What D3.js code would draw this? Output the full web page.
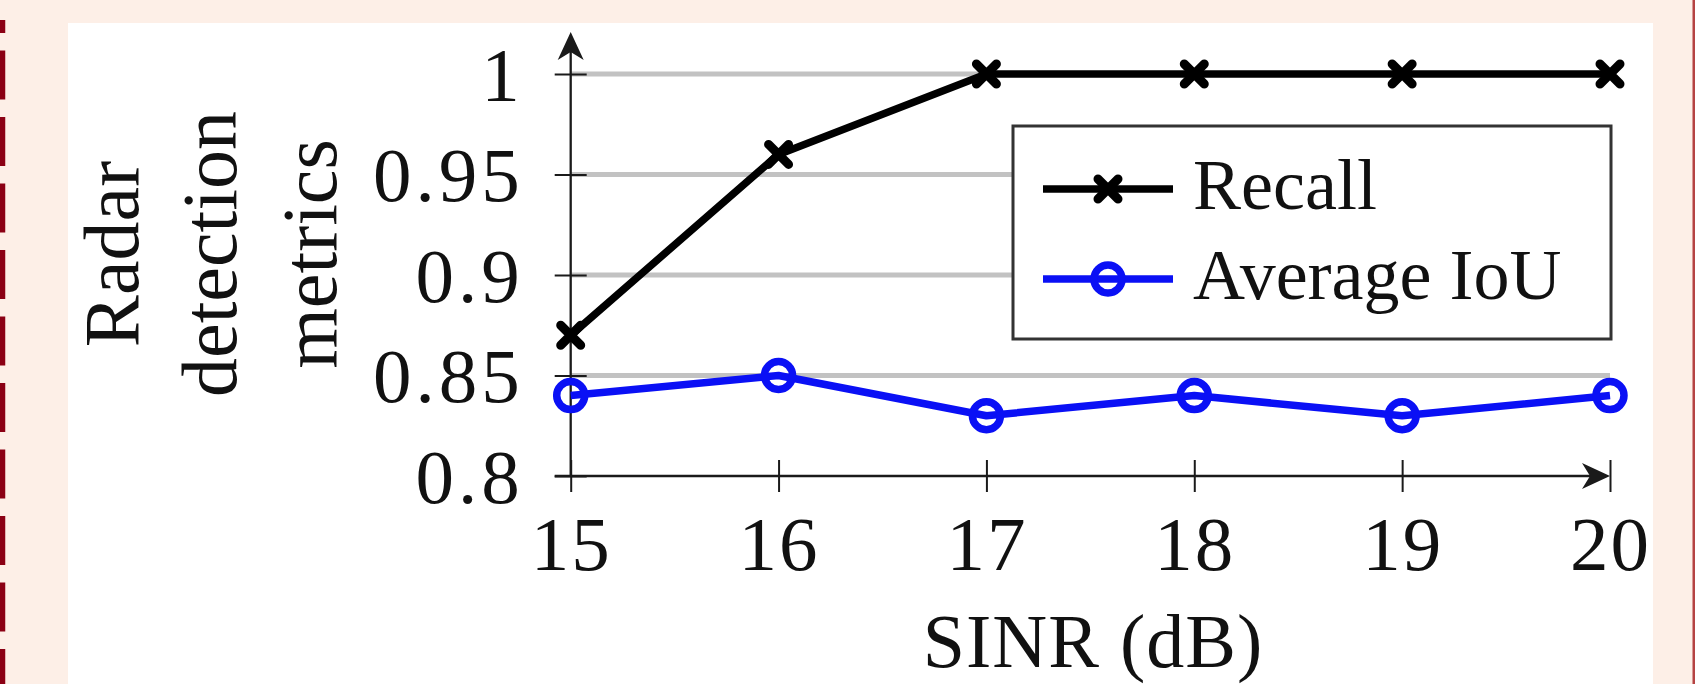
<!DOCTYPE html>
<html>
<head>
<meta charset="utf-8">
<script src="https://d3js.org/d3.v7.min.js"></script>
<style>
  body { margin: 0; background: #fdefe7; }
  svg { display: block; }
  text { font-family: "Liberation Serif", "Times New Roman", serif; fill: #111; }
</style>
</head>
<body>
<div id="chart"></div>
<script>
// data
const sinr = [15, 16, 17, 18, 19, 20];
const recall = [0.87, 0.96, 1, 1, 1, 1];
const avgIoU = [0.84, 0.85, 0.83, 0.84, 0.83, 0.84];
const xTickLabels = ["15", "16", "17", "18", "19", "20"];
const yTickValues = [0.8, 0.85, 0.9, 0.95, 1];
const yTickLabels = ["0.8", "0.85", "0.9", "0.95", "1"];
const gridValues = [0.85, 0.9, 0.95, 1];
const seriesNames = ["Recall", "Average IoU"];

const W = 1695, H = 684;
const blue = "#0a10f5";

const svg = d3.select("#chart").append("svg")
    .attr("width", W)
    .attr("height", H);

// page background, white panel, borders
svg.append("rect").attr("width", W).attr("height", H).attr("fill", "#fdefe7");
svg.append("rect").attr("x", 68).attr("y", 23).attr("width", 1585).attr("height", H).attr("fill", "#fff");
svg.append("line")
    .attr("x1", 2.6).attr("x2", 2.6).attr("y1", 20).attr("y2", H)
    .attr("stroke", "#8b0014").attr("stroke-width", 5.3)
    .attr("stroke-dasharray", "49 17.5").attr("stroke-dashoffset", 36);
svg.append("line")
    .attr("x1", 1693.8).attr("x2", 1693.8).attr("y1", 0).attr("y2", H)
    .attr("stroke", "#b54343").attr("stroke-width", 2.6);

const x = d3.scaleLinear().domain([15, 20]).range([570.7, 1610]);
const y = d3.scaleLinear().domain([0.8, 1]).range([476, 74]);

// grid lines
svg.append("g").selectAll("line")
  .data(gridValues)
  .join("line")
    .attr("x1", x(15)).attr("x2", x(20))
    .attr("y1", d => y(d)).attr("y2", d => y(d))
    .attr("stroke", "#c2c2c2").attr("stroke-width", 5);

// axes (ticks cross the axis line)
const tk = 16;
const yAxis = d3.axisLeft(y)
    .tickValues(yTickValues)
    .tickFormat((d, i) => yTickLabels[i])
    .tickSize(2 * tk)
    .tickPadding(31);
const gy = svg.append("g")
    .attr("transform", "translate(" + (x(15) + tk) + ",0)")
    .call(yAxis);

const xAxis = d3.axisBottom(x)
    .tickValues(sinr)
    .tickFormat((d, i) => xTickLabels[i])
    .tickSize(2 * tk);
const gx = svg.append("g")
    .attr("transform", "translate(0," + (y(0.8) - tk) + ")")
    .call(xAxis);

[gx, gy].forEach(g => {
  g.select(".domain").remove();
  g.selectAll(".tick line").attr("stroke", "#1a1a1a").attr("stroke-width", 2);
  g.selectAll(".tick text")
    .style("font-family", "'Liberation Serif', serif")
    .style("font-size", "77px")
    .attr("fill", "#111");
});
gy.selectAll(".tick text").attr("dy", "0.34em").style("letter-spacing", "4px");
gx.selectAll(".tick text").attr("dy", null).attr("y", 110).style("letter-spacing", "2px");

// axis lines with arrow heads
const arrow = "M0,0 L-28,-13 L-20,0 L-28,13 Z";
svg.append("line")
    .attr("x1", x(15)).attr("x2", x(15))
    .attr("y1", y(0.8)).attr("y2", 40)
    .attr("stroke", "#1a1a1a").attr("stroke-width", 2.3);
svg.append("path").attr("d", arrow)
    .attr("transform", "translate(" + x(15) + ",32) rotate(-90)")
    .attr("fill", "#1a1a1a");
svg.append("line")
    .attr("x1", x(15) - tk).attr("x2", x(20) - 6)
    .attr("y1", y(0.8)).attr("y2", y(0.8))
    .attr("stroke", "#1a1a1a").attr("stroke-width", 2.3);
svg.append("path").attr("d", arrow)
    .attr("transform", "translate(" + x(20) + "," + y(0.8) + ")")
    .attr("fill", "#1a1a1a");

// series
const recallData = sinr.map((s, i) => [s, recall[i]]);
const iouData = sinr.map((s, i) => [s, avgIoU[i]]);
const line = d3.line().x(d => x(d[0])).y(d => y(d[1]));

svg.append("path").datum(recallData)
    .attr("d", line)
    .attr("fill", "none").attr("stroke", "#000").attr("stroke-width", 7.5)
    .attr("stroke-linejoin", "round");
svg.append("path").datum(iouData)
    .attr("d", line)
    .attr("fill", "none").attr("stroke", blue).attr("stroke-width", 7.5)
    .attr("stroke-linejoin", "round");

const crossPath = "M-10,-10 L10,10 M-10,10 L10,-10";
function cross(g, cx, cy) {
  g.append("path").attr("d", crossPath)
    .attr("transform", "translate(" + cx + "," + cy + ")")
    .attr("stroke", "#000").attr("stroke-width", 9).attr("stroke-linecap", "round")
    .attr("fill", "none");
}
function ring(g, cx, cy) {
  g.append("circle").attr("cx", cx).attr("cy", cy).attr("r", 14)
    .attr("fill", "none").attr("stroke", blue).attr("stroke-width", 7.5);
}

const gm = svg.append("g");
recallData.forEach(d => cross(gm, x(d[0]), y(d[1])));
iouData.forEach(d => ring(gm, x(d[0]), y(d[1])));

// legend
const lg = svg.append("g");
lg.append("rect")
    .attr("x", 1013).attr("y", 126).attr("width", 598).attr("height", 213)
    .attr("fill", "#fff").attr("stroke", "#333").attr("stroke-width", 3);
const rows = [189, 279];
seriesNames.forEach((name, i) => {
  const cy = rows[i];
  const col = i === 0 ? "#000" : blue;
  lg.append("line").attr("x1", 1043).attr("x2", 1173).attr("y1", cy).attr("y2", cy)
    .attr("stroke", col).attr("stroke-width", 7.5);
  if (i === 0) cross(lg, 1108, cy); else ring(lg, 1108, cy);
  lg.append("text")
    .attr("x", 1193).attr("y", cy + 20)
    .style("font-size", "72px")
    .text(name);
});

// axis titles
svg.append("text")
    .attr("x", 1093).attr("y", 667)
    .attr("text-anchor", "middle")
    .style("font-size", "76px")
    .style("letter-spacing", "1px")
    .text("SINR (dB)");

const yTitle = ["Radar", "detection", "metrics"];
const yTitleX = [138, 236, 336];
yTitle.forEach((t, i) => {
  svg.append("text")
    .attr("transform", "translate(" + yTitleX[i] + ",254) rotate(-90)")
    .attr("text-anchor", "middle")
    .style("font-size", "78px")
    .text(t);
});
</script>
</body>
</html>
